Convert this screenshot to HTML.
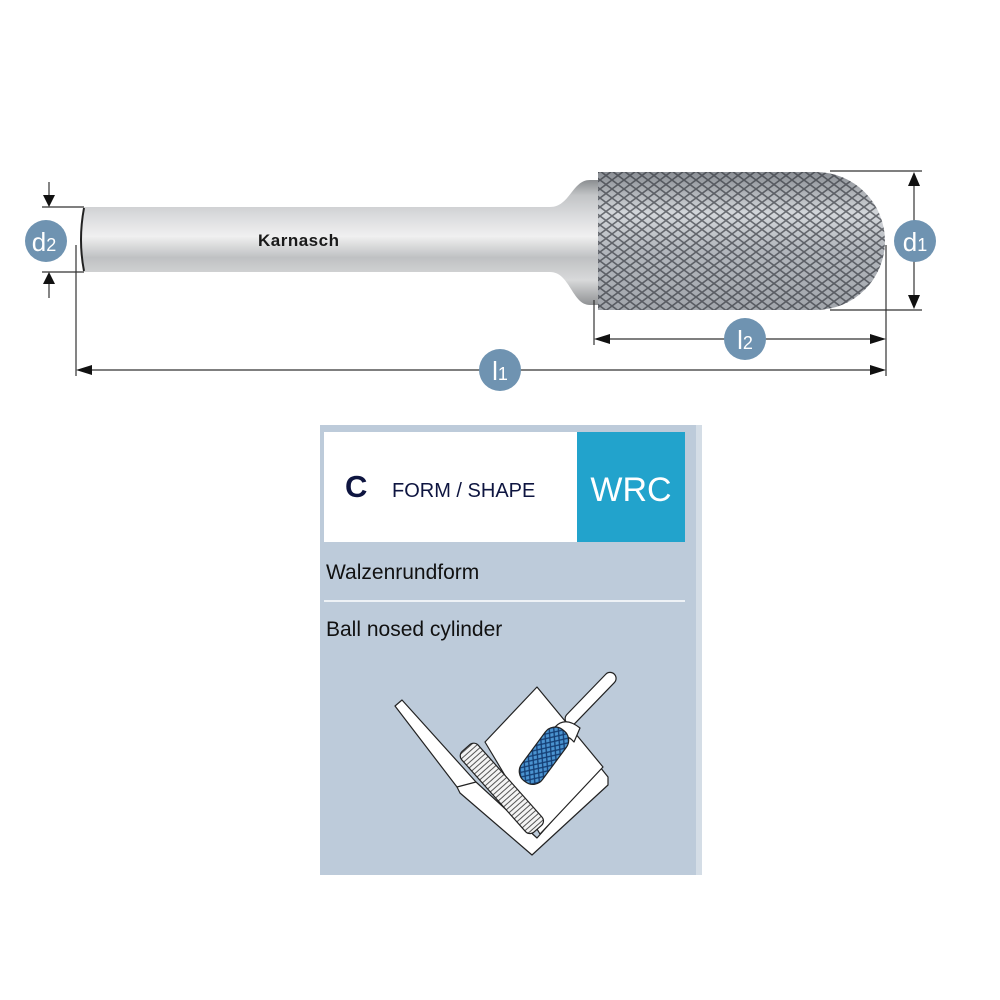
<!DOCTYPE html>
<html><head><meta charset="utf-8"><style>
html,body{margin:0;padding:0;background:#fff;width:1000px;height:1000px;overflow:hidden}
svg{position:absolute;left:0;top:0}
.lbl{font-family:"Liberation Sans",sans-serif}
</style></head><body>
<svg width="1000" height="1000" viewBox="0 0 1000 1000">
<defs>
<linearGradient id="shank" x1="0" y1="0" x2="0" y2="1">
<stop offset="0" stop-color="#8a8d90"/><stop offset="0.12" stop-color="#c2c4c6"/>
<stop offset="0.3" stop-color="#dcdddf"/><stop offset="0.45" stop-color="#f0f0f0"/>
<stop offset="0.62" stop-color="#bfc1c3"/><stop offset="0.8" stop-color="#d8d9da"/>
<stop offset="1" stop-color="#909294"/></linearGradient>
<linearGradient id="head" x1="0" y1="0" x2="0" y2="1">
<stop offset="0" stop-color="#8a8e94"/><stop offset="0.3" stop-color="#d4d7db"/>
<stop offset="0.55" stop-color="#b4b8be"/><stop offset="1" stop-color="#a2a6ac"/></linearGradient>
<pattern id="knurl" width="12" height="9" patternUnits="userSpaceOnUse">
<path d="M0 0 L12 9 M12 0 L0 9" stroke="#30333a" stroke-width="1.6"/></pattern>
<pattern id="blueknurl" width="7" height="6" patternUnits="userSpaceOnUse">
<rect width="7" height="6" fill="#4a93d0"/>
<path d="M0 0 L7 6 M7 0 L0 6" stroke="#143e74" stroke-width="1.3"/></pattern>
<pattern id="grooves" width="4" height="30" patternUnits="userSpaceOnUse">
<rect width="4" height="30" fill="#f4f4f4"/><line x1="1" y1="0" x2="1" y2="30" stroke="#555" stroke-width="1"/></pattern>
<clipPath id="hc"><path d="M598 172 L816 172 A69 69 0 0 1 816 310 L598 310 Z"/></clipPath>
</defs>
<path d="M84 207 L550 207 C570 207 572 180 590 180 L600 180 L600 305 L590 305 C572 305 570 272 550 272 L84 272 Q79 240 84 207Z" fill="url(#shank)"/>
<path d="M84 208 Q78 240 84 271" stroke="#222" stroke-width="2" fill="none"/>
<text x="258" y="246" class="lbl" font-size="17" font-weight="bold" fill="#1a1a1a" letter-spacing="0.5">Karnasch</text>
<path d="M598 172 L816 172 A69 69 0 0 1 816 310 L598 310 Z" fill="url(#head)"/>
<g clip-path="url(#hc)"><rect x="590" y="165" width="300" height="150" fill="url(#knurl)" opacity="0.65"/></g>
<g stroke="#333" stroke-width="1.2" fill="none">
<line x1="42" y1="207" x2="84" y2="207"/><line x1="42" y1="272" x2="84" y2="272"/>
<line x1="49" y1="182" x2="49" y2="200"/><line x1="49" y1="279" x2="49" y2="298"/>
<line x1="76" y1="245" x2="76" y2="376"/>
<line x1="886" y1="245" x2="886" y2="376"/>
<line x1="594" y1="300" x2="594" y2="345"/>
<line x1="85" y1="370" x2="878" y2="370"/>
<line x1="603" y1="339" x2="878" y2="339"/>
<line x1="830" y1="171" x2="922" y2="171"/><line x1="830" y1="310" x2="922" y2="310"/>
<line x1="914" y1="180" x2="914" y2="302"/>
</g>
<g fill="#111">
<path d="M43 195 L55 195 L49 207Z"/><path d="M43 284 L55 284 L49 272Z"/>
<path d="M76 370 L92 365 L92 375Z"/><path d="M886 370 L870 365 L870 375Z"/>
<path d="M594 339 L610 334 L610 344Z"/><path d="M886 339 L870 334 L870 344Z"/>
<path d="M914 172 L908 186 L920 186Z"/><path d="M914 309 L908 295 L920 295Z"/>
</g>
<g class="lbl" font-size="26" fill="#fff" text-anchor="middle">
<circle cx="46" cy="241" r="21" fill="#6f93b1"/><text x="44" y="251">d<tspan font-size="18">2</tspan></text>
<circle cx="915" cy="241" r="21" fill="#6f93b1"/><text x="915" y="251">d<tspan font-size="18">1</tspan></text>
<circle cx="745" cy="339" r="21" fill="#6f93b1"/><text x="745" y="349">l<tspan font-size="18">2</tspan></text>
<circle cx="500" cy="370" r="21" fill="#6f93b1"/><text x="500" y="380">l<tspan font-size="18">1</tspan></text>
</g>
<rect x="320" y="425" width="382" height="450" fill="#bdcbda"/>
<rect x="696" y="425" width="6" height="450" fill="#d4dde6"/>
<rect x="324" y="432" width="253" height="110" fill="#fff"/>
<rect x="577" y="432" width="108" height="110" fill="#22a3cc"/>
<text x="345" y="497" class="lbl" font-size="31" font-weight="bold" fill="#0e1540">C</text>
<text x="392" y="497" class="lbl" font-size="20" fill="#0e1540">FORM / SHAPE</text>
<text x="631" y="501" class="lbl" font-size="34" fill="#fff" text-anchor="middle">WRC</text>
<text x="326" y="579" class="lbl" font-size="21" fill="#111">Walzenrundform</text>
<line x1="324" y1="601" x2="685" y2="601" stroke="#fff" stroke-width="1.5"/>
<text x="326" y="636" class="lbl" font-size="21" fill="#111">Ball nosed cylinder</text>
<g stroke="#222" stroke-width="1.2" stroke-linejoin="round">
<!-- V base -->
<path d="M395 706 L402 700 L476 782 L537 838 L600 767 L608 777 L608 785 L532 855 L460 793 L457 787 Z" fill="#fff"/>
<path d="M457 787 L476 782" fill="none"/>
<!-- block -->
<path d="M485 742 L537 687 L603 767 L540 834 Z" fill="#fff"/>
<!-- roller -->
<g transform="translate(466,748) rotate(48.4)">
<rect x="0" y="-11" width="108" height="22" rx="6" fill="url(#grooves)"/>
</g>
<!-- tool shank -->
<g transform="translate(567,723) rotate(-46)">
<rect x="0" y="-6" width="68" height="12" rx="6" fill="#fff"/>
</g>
<path d="M555 727 Q565 716 580 728 L574 742 Q566 732 555 740Z" fill="#fff"/>
<!-- blue head -->
<g transform="translate(563,730) rotate(126.5)">
<rect x="0" y="-13" width="64" height="26" rx="12" fill="url(#blueknurl)"/>
</g>
</g>
</svg>
</body></html>
